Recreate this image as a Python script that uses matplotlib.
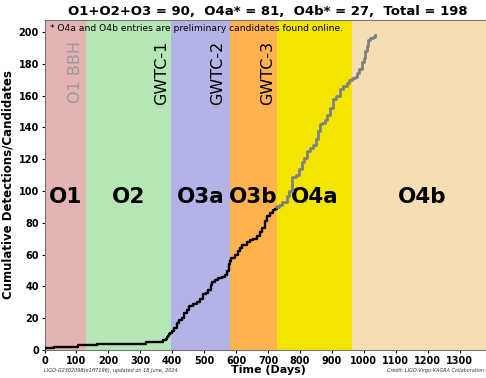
import matplotlib
matplotlib.use("Agg")
import matplotlib.pyplot as plt
import numpy as np

# Observing runs: name, start day, end day, colour
run_names = ["O1", "O2", "O3a", "O3b", "O4a", "O4b"]
run_starts = [0, 129, 397, 580, 727, 964]
run_ends = [129, 397, 580, 727, 964, 1400]
run_colors = ["#e4b3b3", "#b5e6b5", "#b3b3e6", "#ffb24d", "#f2e600", "#f5deb3"]

# Catalogue labels (vertical): text, day, colour
catalog_labels = ["O1 BBH", "GWTC-1", "GWTC-2", "GWTC-3"]
catalog_days = [96, 368, 543, 700]
catalog_colors = ["#999999", "black", "black", "black"]

# Cumulative confident detections, O1-O3 (day, count)
o123_days = [0, 2, 30, 105, 164, 319, 370, 380, 385, 388, 389, 394, 398,
             405, 414, 422, 430, 438, 445, 452, 465, 477, 487, 497, 505,
             513, 520, 524, 535, 544, 555, 565, 572, 577, 581, 585, 597,
             605, 612, 620, 633, 645, 654, 665, 675, 682, 690, 698, 706,
             715, 722, 727]
o123_counts = [0, 1, 2, 3, 4, 5, 6, 7, 8, 9, 10, 11, 12,
               14, 17, 19, 20, 23, 25, 28, 29, 30, 32, 35, 36,
               38, 41, 43, 44, 45, 46, 47, 50, 54, 56, 58, 60,
               62, 64, 66, 68, 69, 70, 72, 74, 77, 81, 84, 86,
               88, 89, 90]

# Cumulative preliminary online candidates, O4 (day, count)
o4_days = [727, 735, 745, 758, 765, 774, 789, 797, 805, 813, 821, 830,
           842, 850, 857, 863, 870, 878, 885, 893, 904, 912, 925, 935,
           946, 955, 964, 971, 978, 985, 993, 999, 1004, 1009, 1014,
           1020, 1028, 1035]
o4_counts = [90, 91, 93, 97, 100, 109, 110, 114, 118, 121, 125, 127,
             129, 133, 138, 142, 143, 145, 148, 152, 158, 160, 164, 166,
             168, 170, 171, 172, 174, 177, 181, 184, 188, 191, 195,
             196, 197, 198]

n_o123 = o123_counts[-1]
n_o4a = 171 - n_o123
n_o4b = o4_counts[-1] - 171
total = o4_counts[-1]

fig = plt.figure(figsize=(4.86, 3.78), dpi=100)
ax = fig.add_axes([0.0916, 0.074, 0.9198, 0.8744])

for name, s, e, c in zip(run_names, run_starts, run_ends, run_colors):
    ax.axvspan(s, e, color=c, lw=0, zorder=0)
    ax.text((s + e) / 2, 96, name, ha="center", va="center",
            fontsize=15.5, fontweight="bold", color="black", zorder=3)

for lab, d, c in zip(catalog_labels, catalog_days, catalog_colors):
    ax.text(d, 194.5, lab, rotation=90, ha="center", va="top",
            fontsize=11.5, color=c, zorder=3)

ax.plot(o123_days, o123_counts, drawstyle="steps-post", color="black",
        lw=1.7, zorder=4)
ax.plot(o4_days, o4_counts, drawstyle="steps-post", color="#808080",
        lw=2.0, zorder=4)

ax.text(0.012, 0.985, "* O4a and O4b entries are preliminary candidates found online.",
        transform=ax.transAxes, ha="left", va="top", fontsize=6.6, zorder=5)

ax.set_xlim(0, 1400)
ax.set_ylim(0, 1.05 * total)
ax.set_xticks(np.arange(0, 1400, 100))
ax.set_yticks(np.arange(0, 201, 20))
for lbl in ax.get_xticklabels() + ax.get_yticklabels():
    lbl.set_fontweight("bold")
ax.tick_params(labelsize=7, length=2.5, width=0.8, pad=1.5)
for sp in ax.spines.values():
    sp.set_color("#777777")
    sp.set_linewidth(0.8)

ax.set_xlabel("Time (Days)", fontsize=8.0, fontweight="bold", va="top")
ax.xaxis.set_label_coords(0.5, -0.0455)
ax.set_ylabel("Cumulative Detections/Candidates", fontsize=8.5,
              fontweight="bold", labelpad=3)
ax.set_title(f"O1+O2+O3 = {n_o123},  O4a* = {n_o4a},  O4b* = {n_o4b},  Total = {total}",
             fontsize=9.5, fontweight="bold", pad=3)

fig.text(44 / 486, 0.012, "LIGO-G2302098(e1ff7196), updated on 18 June, 2024",
         fontsize=3.6, style="italic", color="#333333", ha="left", va="bottom")
fig.text(0.997, 0.012, "Credit: LIGO-Virgo-KAGRA Collaboration",
         fontsize=3.5, style="italic", color="#333333", ha="right", va="bottom")

fig.savefig("out.png", dpi=100)
